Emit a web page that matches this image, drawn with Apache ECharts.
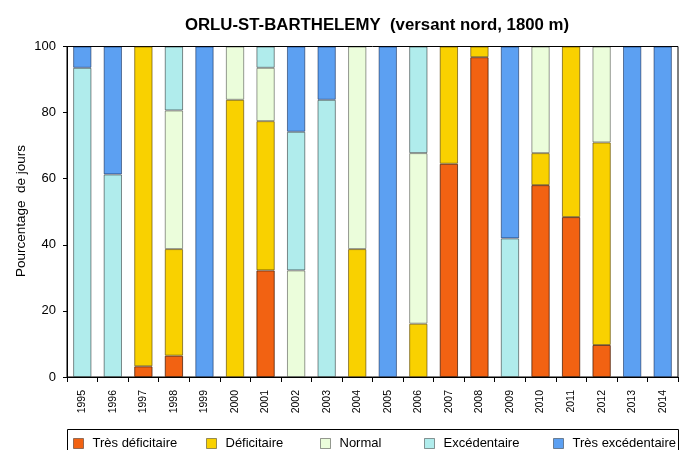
<!DOCTYPE html>
<html>
<head>
<meta charset="utf-8">
<script src="https://cdn.jsdelivr.net/npm/echarts@6/dist/echarts.min.js"></script>
<style>html,body{margin:0;padding:0;background:#fff}#c{width:689px;height:450px}</style>
</head>
<body>
<div id="c"></div>
<script>
var years = ['1995','1996','1997','1998','1999','2000','2001','2002','2003','2004','2005','2006','2007','2008','2009','2010','2011','2012','2013','2014'];
var tresDeficitaire = [0,0,3.23,6.45,0,0,32.26,0,0,0,0,0,64.52,96.77,0,58.06,48.39,9.68,0,0];
var deficitaire = [0,0,96.77,32.26,0,83.87,45.16,0,0,38.71,0,16.13,35.48,3.23,0,9.68,51.61,61.29,0,0];
var normal = [0,0,0,41.94,0,16.13,16.13,32.26,0,61.29,0,51.61,0,0,0,32.26,0,29.03,0,0];
var excedentaire = [93.55,61.29,0,19.35,0,0,6.45,41.94,83.87,0,0,32.26,0,0,41.94,0,0,0,0,0];
var tresExcedentaire = [6.45,38.71,0,0,100,0,0,25.81,16.13,0,100,0,0,0,58.06,0,0,0,100,100];
var seriesNames = ['Très déficitaire','Déficitaire','Normal','Excédentaire','Très excédentaire'];
var yTicks = [0,20,40,60,80,100];

var colors = ['#F26212','#F9D100','#EBFDDB','#B0ECEC','#5CA0F2'];
var borders = ['rgba(60,20,0,0.7)','rgba(80,60,0,0.6)','rgba(0,0,0,0.4)','rgba(0,0,0,0.45)','rgba(0,20,60,0.5)'];
var dataSets = [tresDeficitaire, deficitaire, normal, excedentaire, tresExcedentaire];
var FONT = '"Liberation Sans", Arial, sans-serif';

var series = seriesNames.map(function(n, i){
  return {
    name: n, type: 'bar', stack: 'tot', barWidth: '60%',
    data: dataSets[i].map(function(v){ return v === 0 ? '-' : v; }),
    itemStyle: { color: colors[i], borderColor: borders[i], borderWidth: 1 }
  };
});

var legendLefts = [73, 206, 320, 424, 553];
var legends = seriesNames.map(function(n, i){
  return {
    data: [n], left: legendLefts[i], top: 437, padding: 0,
    icon: 'rect', itemWidth: 10, itemHeight: 10, itemGap: 0,
    selectedMode: false,
    itemStyle: { borderColor: 'rgba(0,0,0,0.4)', borderWidth: 1 },
    textStyle: { fontFamily: FONT, fontSize: 13, color: '#000', padding: [0,0,0,4] }
  };
});

var chart = echarts.init(document.getElementById('c'), null, {renderer: 'canvas'});
chart.setOption({
  animation: false,
  backgroundColor: '#fff',
  title: {
    text: 'ORLU-ST-BARTHELEMY  (versant nord, 1800 m)',
    left: 372, top: 12, textAlign: 'center',
    textStyle: { fontFamily: FONT, fontSize: 16.8, fontWeight: 'bold', color: '#000' }
  },
  legend: legends,
  grid: { left: 67, right: 11, top: 46.5, bottom: 73, show: true, borderColor: '#000', borderWidth: 1, backgroundColor: 'transparent' },
  xAxis: {
    type: 'category', data: years,
    axisLine: { lineStyle: { color: '#000', width: 1 } },
    axisTick: { show: true, length: 5, lineStyle: { color: '#000' } },
    axisLabel: { rotate: 90, fontFamily: FONT, fontSize: 10.5, color: '#000', margin: 13 }
  },
  yAxis: {
    type: 'value', min: 0, max: 100, interval: 20,
    axisLine: { show: true, lineStyle: { color: '#000', width: 1 } },
    axisTick: { show: true, length: 4, lineStyle: { color: '#000' } },
    splitLine: { show: false },
    axisLabel: { fontFamily: FONT, fontSize: 13, color: '#000', margin: 11,
      formatter: function(v){ return yTicks.indexOf(v) >= 0 ? String(v) : ''; } }
  },
  graphic: [
    { type: 'rect', shape: { x: 67.5, y: 429.5, width: 611, height: 40 },
      style: { fill: 'none', stroke: '#000', lineWidth: 1 }, z: 10 },
    { type: 'text', x: 21, y: 211, rotation: Math.PI / 2,
      style: { text: 'Pourcentage  de jours', fill: '#000', font: '13.5px ' + FONT, textAlign: 'center', textVerticalAlign: 'middle' } }
  ],
  series: series
});
</script>
</body>
</html>
